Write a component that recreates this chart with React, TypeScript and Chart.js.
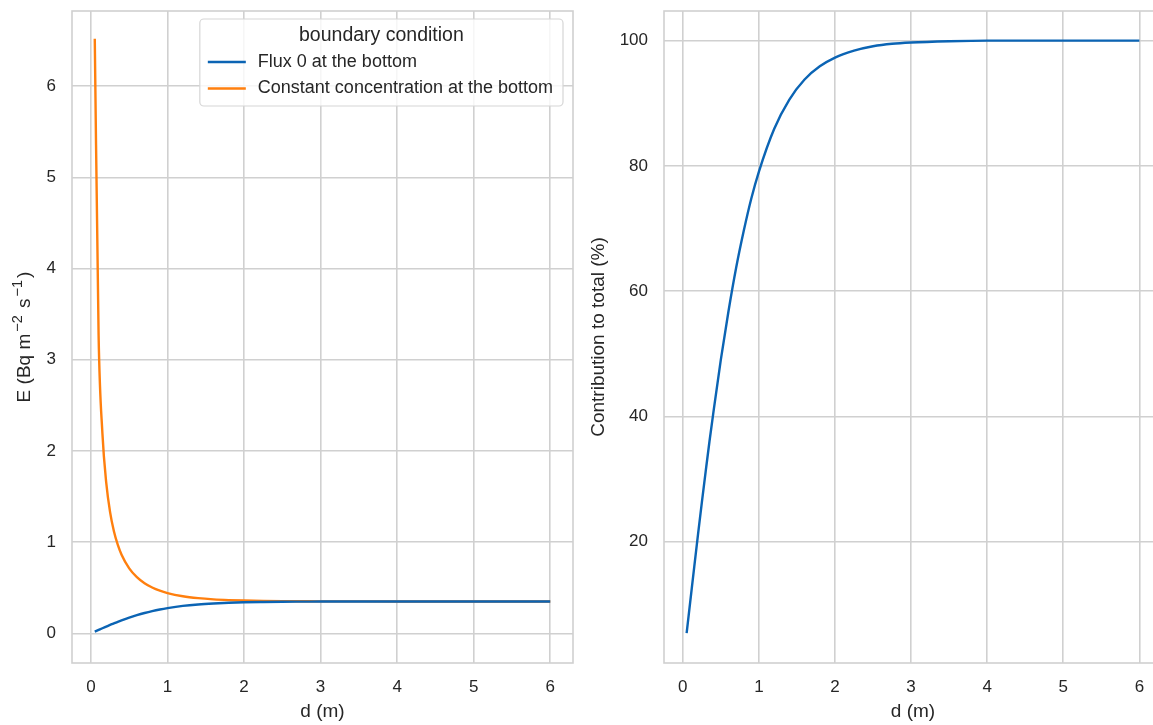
import React, { useEffect, useRef } from "react";
import { Chart, registerables } from "chart.js";

Chart.register(...registerables);

// depth d (m)
const D = [0.05, 0.1, 0.15, 0.2, 0.25, 0.3, 0.35, 0.4, 0.5, 0.6, 0.7, 0.8, 0.9, 1.0, 1.2, 1.4, 1.6, 1.8, 2.0, 2.25, 2.5, 2.75, 3.0, 3.5, 4.0, 5.0, 6.0];
// E (Bq m-2 s-1), flux 0 at the bottom
const FLUX0 = [0.019, 0.0375, 0.056, 0.074, 0.092, 0.109, 0.126, 0.142, 0.172, 0.199, 0.223, 0.244, 0.262, 0.277, 0.301, 0.317, 0.328, 0.336, 0.341, 0.3445, 0.347, 0.348, 0.349, 0.3496, 0.35, 0.35, 0.35];
// E (Bq m-2 s-1), constant concentration at the bottom
const CONST = [6.52, 3.27, 2.19, 1.65, 1.33, 1.12, 0.973, 0.863, 0.713, 0.616, 0.55, 0.503, 0.468, 0.442, 0.407, 0.386, 0.373, 0.365, 0.36, 0.3556, 0.353, 0.352, 0.351, 0.3504, 0.35, 0.35, 0.35];
// contribution to total (%)
const CONTRIB = [5.4, 10.7, 16.0, 21.2, 26.3, 31.2, 36.0, 40.5, 49.1, 56.8, 63.7, 69.6, 74.8, 79.1, 85.9, 90.6, 93.8, 95.9, 97.3, 98.4, 99.1, 99.5, 99.7, 99.9, 100.0, 100.0, 100.0];

const X_TICKS = [0, 1, 2, 3, 4, 5, 6];
const Y_TICKS_LEFT = [0, 1, 2, 3, 4, 5, 6];
const Y_TICKS_RIGHT = [20, 40, 60, 80, 100];

const SERIES_LABELS = ["Flux 0 at the bottom", "Constant concentration at the bottom"];
const LEGEND_TITLE = "boundary condition";
// y title of the left panel, as [text, isSuperscript] parts: "E (Bq m⁻² s⁻¹)"
const LEFT_Y_TITLE: [string, boolean][] = [["E (Bq m", false], ["−2", true], [" s", false], ["−1", true], [")", false]];

const BLUE = "#0b64b4";
const ORANGE = "#ff7f0e";
const GRID = "#d0d0d0";
const TEXT = "#262626";
const FONT = "'Liberation Sans', Arial, Helvetica, sans-serif";

const frame = {
  id: "frame",
  beforeDatasetsDraw(chart: any) {
    const { ctx, chartArea } = chart;
    ctx.save();
    ctx.strokeStyle = GRID;
    ctx.lineWidth = 1.6;
    ctx.strokeRect(chartArea.left, chartArea.top, chartArea.right - chartArea.left, chartArea.bottom - chartArea.top);
    ctx.restore();
  },
};

const richYTitle = {
  id: "richYTitle",
  afterDraw(chart: any, _args: any, opts: any) {
    if (!opts || !opts.parts) return;
    const { ctx, chartArea } = chart;
    const size = 19;
    const supSize = 14.5;
    const gap = 2;
    ctx.save();
    let total = 0;
    for (const [t, sup] of opts.parts) {
      ctx.font = `${sup ? supSize : size}px ${FONT}`;
      total += ctx.measureText(t).width + (sup ? 2 * gap : 0);
    }
    const cy = (chartArea.top + chartArea.bottom) / 2;
    ctx.translate(opts.x, cy);
    ctx.rotate(-Math.PI / 2);
    ctx.fillStyle = TEXT;
    ctx.textBaseline = "alphabetic";
    ctx.textAlign = "left";
    let x = -total / 2;
    const base = size * 0.36;
    for (const [t, sup] of opts.parts) {
      ctx.font = `${sup ? supSize : size}px ${FONT}`;
      if (sup) x += gap;
      ctx.fillText(t, x, sup ? base - size * 0.42 : base);
      x += ctx.measureText(t).width + (sup ? gap : 0);
    }
    ctx.restore();
  },
};

const insideLegend = {
  id: "insideLegend",
  afterDatasetsDraw(chart: any, _args: any, opts: any) {
    if (!opts || !opts.show) return;
    const { ctx, chartArea } = chart;
    ctx.save();
    ctx.font = `18px ${FONT}`;
    const labels = chart.data.datasets.map((d: any) => d.label);
    const maxW = Math.max(...labels.map((l: string) => ctx.measureText(l).width));
    ctx.font = `19.5px ${FONT}`;
    const titleW = ctx.measureText(LEGEND_TITLE).width;
    const w = Math.max(58 + maxW + 10, titleW + 20);
    const h = 87;
    const right = chartArea.right - 10;
    const left = right - w;
    const top = chartArea.top + 8;
    const r = 4;
    ctx.beginPath();
    ctx.moveTo(left + r, top);
    ctx.lineTo(right - r, top);
    ctx.arcTo(right, top, right, top + r, r);
    ctx.lineTo(right, top + h - r);
    ctx.arcTo(right, top + h, right - r, top + h, r);
    ctx.lineTo(left + r, top + h);
    ctx.arcTo(left, top + h, left, top + h - r, r);
    ctx.lineTo(left, top + r);
    ctx.arcTo(left, top, left + r, top, r);
    ctx.closePath();
    ctx.fillStyle = "rgba(255,255,255,0.8)";
    ctx.fill();
    ctx.strokeStyle = "#d6d6d6";
    ctx.lineWidth = 1.2;
    ctx.stroke();

    ctx.fillStyle = TEXT;
    ctx.textBaseline = "middle";
    ctx.textAlign = "center";
    ctx.font = `19.5px ${FONT}`;
    ctx.fillText(LEGEND_TITLE, (left + right) / 2, top + 17);

    ctx.textAlign = "left";
    ctx.font = `18px ${FONT}`;
    chart.data.datasets.forEach((ds: any, i: number) => {
      const y = top + 43 + i * 26.5;
      ctx.strokeStyle = ds.borderColor;
      ctx.lineWidth = 2.4;
      ctx.beginPath();
      ctx.moveTo(left + 8, y);
      ctx.lineTo(left + 46, y);
      ctx.stroke();
      ctx.fillStyle = TEXT;
      ctx.fillText(ds.label, left + 58, y);
    });
    ctx.restore();
  },
};

function makeOptions(opts: {
  yTicks: number[];
  yMin: number;
  yMax: number;
  yTitle: string;
  yTitleParts: [string, boolean][] | null;
  yAxisWidth: number;
  yTitlePad: number;
  padRight: number;
  legend: boolean;
}) {
  return {
    responsive: false,
    animation: false as const,
    layout: { padding: { top: 11, right: opts.padRight, bottom: 0, left: 0 } },
    plugins: {
      legend: { display: false },
      tooltip: { enabled: false },
      insideLegend: { show: opts.legend },
      richYTitle: { parts: opts.yTitleParts, x: 23 },
    },
    elements: { point: { radius: 0 }, line: { tension: 0.4, cubicInterpolationMode: "monotone", borderWidth: 2.4 } },
    scales: {
      x: {
        type: "linear" as const,
        min: -0.2475,
        max: 6.2975,
        afterBuildTicks: (s: any) => {
          s.ticks = X_TICKS.map((v) => ({ value: v }));
        },
        afterFit: (s: any) => {
          s.height = 62;
          s.paddingLeft = 0;
          s.paddingRight = 0;
        },
        grid: { color: GRID, lineWidth: 1.6, drawTicks: false },
        border: { display: false },
        ticks: { color: TEXT, font: { family: FONT, size: 17 }, padding: 14, maxRotation: 0 },
        title: { display: true, text: "d (m)", color: TEXT, font: { family: FONT, size: 19 }, padding: { top: 0, bottom: 2 } },
      },
      y: {
        type: "linear" as const,
        min: opts.yMin,
        max: opts.yMax,
        afterBuildTicks: (s: any) => {
          s.ticks = opts.yTicks.map((v) => ({ value: v }));
        },
        afterFit: (s: any) => {
          s.width = opts.yAxisWidth;
          s.paddingTop = 0;
          s.paddingBottom = 0;
        },
        grid: { color: GRID, lineWidth: 1.6, drawTicks: false },
        border: { display: false },
        ticks: { color: TEXT, font: { family: FONT, size: 17 }, padding: 16 },
        title: {
          display: !opts.yTitleParts,
          text: opts.yTitle,
          color: TEXT,
          font: { family: FONT, size: 19 },
          padding: { top: opts.yTitlePad, bottom: 0 },
        },
      },
    },
  };
}

function LeftChart() {
  const ref = useRef<HTMLCanvasElement>(null);
  useEffect(() => {
    if (!ref.current) return;
    const chart = new Chart(ref.current, {
      type: "line",
      data: {
        datasets: [
          { label: SERIES_LABELS[0], data: D.map((d, i) => ({ x: d, y: FLUX0[i] })), borderColor: BLUE, backgroundColor: BLUE },
          { label: SERIES_LABELS[1], data: D.map((d, i) => ({ x: d, y: CONST[i] })), borderColor: ORANGE, backgroundColor: ORANGE },
        ],
      },
      options: makeOptions({
        yTicks: Y_TICKS_LEFT,
        yMin: -0.325,
        yMax: 6.825,
        yTitle: "E (Bq m⁻² s⁻¹)",
        yTitleParts: LEFT_Y_TITLE,
        yAxisWidth: 72,
        yTitlePad: 11,
        padRight: 7,
        legend: true,
      }) as any,
      plugins: [frame, insideLegend, richYTitle],
    });
    return () => chart.destroy();
  }, []);
  return <canvas ref={ref} width={580} height={725} style={{ position: "absolute", left: 0, top: 0, width: 580, height: 725 }} />;
}

function RightChart() {
  const ref = useRef<HTMLCanvasElement>(null);
  useEffect(() => {
    if (!ref.current) return;
    const chart = new Chart(ref.current, {
      type: "line",
      data: {
        datasets: [
          { label: "Contribution to total", data: D.map((d, i) => ({ x: d, y: CONTRIB[i] })), borderColor: BLUE, backgroundColor: BLUE },
        ],
      },
      options: makeOptions({
        yTicks: Y_TICKS_RIGHT,
        yMin: 0.64,
        yMax: 104.73,
        yTitle: "Contribution to total (%)",
        yTitleParts: null,
        yAxisWidth: 84,
        yTitlePad: 7,
        padRight: 18,
        legend: false,
      }) as any,
      plugins: [frame],
    });
    return () => chart.destroy();
  }, []);
  return <canvas ref={ref} width={600} height={725} style={{ position: "absolute", left: 580, top: 0, width: 600, height: 725 }} />;
}

export default function App() {
  return (
    <div style={{ position: "absolute", left: 0, top: 0, width: 1153, height: 725, overflow: "hidden", background: "#fff" }}>
      <LeftChart />
      <RightChart />
    </div>
  );
}
